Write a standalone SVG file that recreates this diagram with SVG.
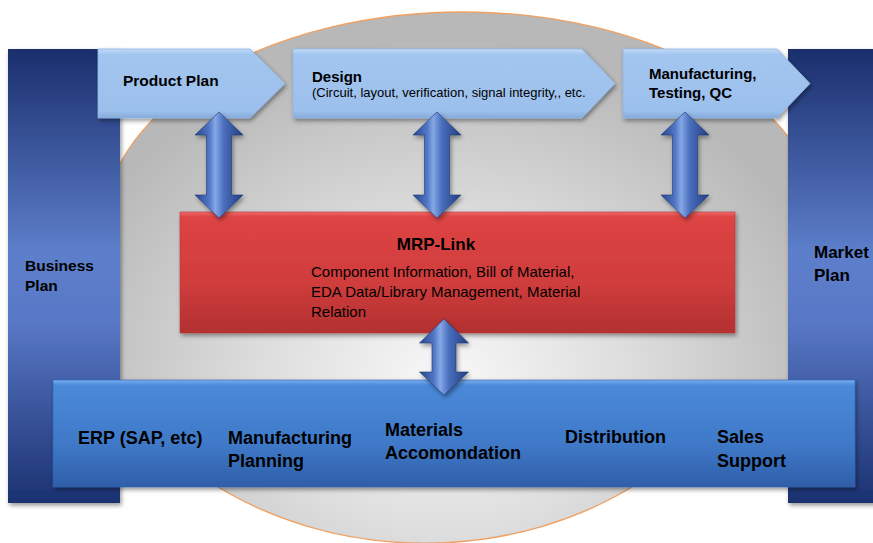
<svg xmlns="http://www.w3.org/2000/svg" width="873" height="543" viewBox="0 0 873 543">
  <defs>
    <radialGradient id="gEllipse" gradientUnits="userSpaceOnUse" cx="445" cy="380" r="400" gradientTransform="translate(445 380) scale(1 0.85) translate(-445 -380)">
      <stop offset="0" stop-color="#f8f8f8"/>
      <stop offset="0.45" stop-color="#dedede"/>
      <stop offset="1" stop-color="#b8b8b8"/>
    </radialGradient>
    <linearGradient id="gBar" x1="0" y1="0" x2="0" y2="1">
      <stop offset="0" stop-color="#1a2e6c"/>
      <stop offset="0.45" stop-color="#5d7fcb"/>
      <stop offset="0.6" stop-color="#5878c6"/>
      <stop offset="1" stop-color="#1b3170"/>
    </linearGradient>
    <linearGradient id="gChev" x1="0" y1="0" x2="0" y2="1">
      <stop offset="0" stop-color="#c3dbf7"/>
      <stop offset="0.08" stop-color="#a3c6f0"/>
      <stop offset="0.9" stop-color="#9cc0ec"/>
      <stop offset="1" stop-color="#86abd9"/>
    </linearGradient>
    <linearGradient id="gRed" x1="0" y1="0" x2="0" y2="1">
      <stop offset="0" stop-color="#ef6a6a"/>
      <stop offset="0.04" stop-color="#de4444"/>
      <stop offset="0.6" stop-color="#cf3c3c"/>
      <stop offset="1" stop-color="#b23030"/>
    </linearGradient>
    <linearGradient id="gErp" x1="0" y1="0" x2="0" y2="1">
      <stop offset="0" stop-color="#79aef0"/>
      <stop offset="0.05" stop-color="#4a8ad9"/>
      <stop offset="0.6" stop-color="#3f79c8"/>
      <stop offset="1" stop-color="#2f5ea8"/>
    </linearGradient>
    <linearGradient id="gArrow" x1="0" y1="0" x2="1" y2="0">
      <stop offset="0" stop-color="#27458c"/>
      <stop offset="0.3" stop-color="#5278c6"/>
      <stop offset="0.42" stop-color="#86a8e6"/>
      <stop offset="0.6" stop-color="#4a6ebd"/>
      <stop offset="1" stop-color="#213d7e"/>
    </linearGradient>
    <filter id="shadow" x="-10%" y="-10%" width="120%" height="130%">
      <feDropShadow dx="1.5" dy="2.5" stdDeviation="2" flood-color="#000" flood-opacity="0.4"/>
    </filter>
  </defs>
  <style>
    .lbl { font-family: "Liberation Sans", Arial, sans-serif; fill: #000; }
    .b { font-weight: bold; }
    .chev { fill: url(#gChev); stroke: #8fb4e2; stroke-width: 0.8; filter: url(#shadow); }
    .bar { fill: url(#gBar); filter: url(#shadow); }
    .arrow { fill: url(#gArrow); stroke: #1e3a78; stroke-width: 0.6; filter: url(#shadow); }
  </style>
  <rect width="873" height="543" fill="#ffffff"/>

  <g id="background-ellipse">
    <path d="M 102 232 A 361 220 0 0 1 824 232 L 824 420 L 643 480 A 355 300 0 0 1 207 480 L 102 420 Z" fill="url(#gEllipse)" stroke="#f0a060" stroke-width="1.3"/>
  </g>

  <g id="business-plan">
    <rect class="bar" x="8" y="49" width="112" height="454"/>
    <text class="lbl b" x="25" y="271" font-size="15.5">Business</text>
    <text class="lbl b" x="25" y="291" font-size="15.5">Plan</text>
  </g>

  <g id="market-plan">
    <rect class="bar" x="788" y="49" width="90" height="454"/>
    <text class="lbl b" x="814" y="258" font-size="17">Market</text>
    <text class="lbl b" x="814" y="281" font-size="17">Plan</text>
  </g>

  <g id="product-plan">
    <path class="chev" d="M 98 49 L 250 49 L 285 83.5 L 250 118 L 98 118 Z"/>
    <text class="lbl b" x="123" y="86" font-size="15.5">Product Plan</text>
  </g>

  <g id="design">
    <path class="chev" d="M 293 49 L 582 49 L 615 83.5 L 582 118 L 293 118 Z"/>
    <text class="lbl b" x="312" y="82" font-size="15">Design</text>
    <text class="lbl" x="312" y="97" font-size="13">(Circuit, layout, verification, signal integrity,, etc.</text>
  </g>

  <g id="manufacturing">
    <path class="chev" d="M 623 49 L 777 49 L 810 83.5 L 777 118 L 623 118 Z"/>
    <text class="lbl b" x="649" y="79" font-size="15">Manufacturing,</text>
    <text class="lbl b" x="649" y="98" font-size="15">Testing, QC</text>
  </g>

  <g id="mrp-link">
    <rect x="180" y="212" width="555" height="121" fill="url(#gRed)" stroke="#b83a3a" stroke-width="0.6" filter="url(#shadow)"/>
    <text class="lbl b" x="436" y="250" font-size="17" text-anchor="middle">MRP-Link</text>
    <text class="lbl" x="311" y="277" font-size="15">Component Information, Bill of Material,</text>
    <text class="lbl" x="311" y="297" font-size="15">EDA Data/Library Management, Material</text>
    <text class="lbl" x="311" y="317" font-size="15">Relation</text>
  </g>

  <g id="erp">
    <rect x="53" y="380" width="802" height="107" fill="url(#gErp)" stroke="#2f62b0" stroke-width="0.6" filter="url(#shadow)"/>
    <text class="lbl b" x="78" y="444" font-size="18">ERP (SAP, etc)</text>
    <text class="lbl b" x="228" y="444" font-size="18">Manufacturing</text>
    <text class="lbl b" x="228" y="467" font-size="18">Planning</text>
    <text class="lbl b" x="385" y="436" font-size="18">Materials</text>
    <text class="lbl b" x="385" y="459" font-size="18">Accomondation</text>
    <text class="lbl b" x="565" y="443" font-size="18">Distribution</text>
    <text class="lbl b" x="717" y="443" font-size="18">Sales</text>
    <text class="lbl b" x="717" y="467" font-size="18">Support</text>
  </g>

  <g id="connectors">
    <path class="arrow" d="M 219 112 L 243 135 L 231.5 135 L 231.5 195 L 243 195 L 219 218 L 195 195 L 206.5 195 L 206.5 135 L 195 135 Z"/>
    <path class="arrow" d="M 437 112 L 461 135 L 449.5 135 L 449.5 195 L 461 195 L 437 218 L 413 195 L 424.5 195 L 424.5 135 L 413 135 Z"/>
    <path class="arrow" d="M 685 112 L 709 135 L 697.5 135 L 697.5 195 L 709 195 L 685 218 L 661 195 L 672.5 195 L 672.5 135 L 661 135 Z"/>
    <path class="arrow" d="M 444 319 L 468.5 343 L 456 343 L 456 372 L 468.5 372 L 444 395 L 419.5 372 L 432 372 L 432 343 L 419.5 343 Z"/>
  </g>
</svg>
